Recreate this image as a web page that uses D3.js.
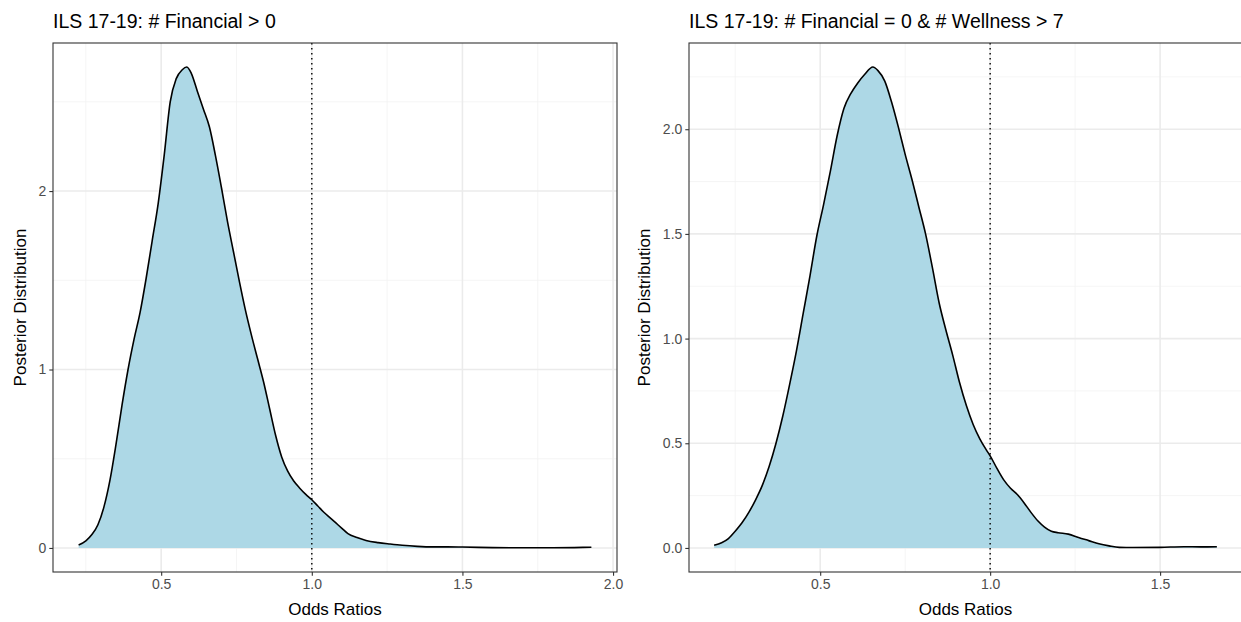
<!DOCTYPE html>
<html>
<head>
<meta charset="utf-8">
<script src="https://cdn.jsdelivr.net/npm/d3@7"></script>
<style>
  body { margin: 0; background: #fff; }
  svg text { font-family: "Liberation Sans", Arial, sans-serif; }
</style>
</head>
<body>
<div id="chart"></div>
<script>
var svgWidth = 1241;
var svgHeight = 622;

// left panel: posterior density of odds ratios
var leftOdds = [0.226, 0.25, 0.27, 0.29, 0.31, 0.33, 0.35, 0.37, 0.39, 0.41, 0.43, 0.45, 0.47, 0.49,
  0.51, 0.53, 0.55, 0.57, 0.585, 0.60, 0.62, 0.64, 0.66, 0.68, 0.70, 0.72, 0.74, 0.76, 0.78,
  0.80, 0.82, 0.84, 0.86, 0.88, 0.90, 0.92, 0.94, 0.96, 0.98, 1.00, 1.02, 1.04, 1.06, 1.08,
  1.10, 1.12, 1.15, 1.18, 1.22, 1.26, 1.30, 1.35, 1.40, 1.45, 1.50, 1.60, 1.70, 1.80, 1.90, 1.928];
var leftDensity = [0.017, 0.04, 0.075, 0.13, 0.23, 0.38, 0.58, 0.80, 1.00, 1.17, 1.32, 1.51, 1.72, 1.93,
  2.20, 2.50, 2.63, 2.68, 2.695, 2.66, 2.56, 2.46, 2.36, 2.20, 2.02, 1.83, 1.66, 1.49, 1.33,
  1.19, 1.06, 0.93, 0.78, 0.63, 0.51, 0.43, 0.375, 0.335, 0.30, 0.27, 0.235, 0.20, 0.17, 0.14,
  0.11, 0.08, 0.058, 0.042, 0.03, 0.022, 0.015, 0.009, 0.006, 0.006, 0.005, 0.002, 0.001, 0.001, 0.003, 0.004];

// right panel
var rightOdds = [0.188, 0.21, 0.23, 0.25, 0.27, 0.29, 0.31, 0.33, 0.35, 0.37, 0.39, 0.41, 0.43, 0.45,
  0.47, 0.49, 0.51, 0.53, 0.55, 0.57, 0.59, 0.61, 0.63, 0.655, 0.67, 0.69, 0.71, 0.73, 0.75,
  0.77, 0.79, 0.81, 0.83, 0.85, 0.87, 0.89, 0.91, 0.93, 0.95, 0.97, 0.99, 1.00, 1.02, 1.04,
  1.06, 1.08, 1.10, 1.12, 1.14, 1.16, 1.18, 1.20, 1.23, 1.26, 1.29, 1.32, 1.35, 1.38, 1.42,
  1.50, 1.57, 1.62, 1.667];
var rightDensity = [0.013, 0.025, 0.045, 0.08, 0.12, 0.17, 0.23, 0.30, 0.39, 0.50, 0.63, 0.78, 0.94, 1.12,
  1.30, 1.49, 1.64, 1.80, 1.97, 2.10, 2.17, 2.22, 2.26, 2.297, 2.28, 2.23, 2.13, 2.01, 1.88,
  1.76, 1.63, 1.50, 1.34, 1.17, 1.04, 0.92, 0.79, 0.68, 0.59, 0.52, 0.465, 0.44, 0.38, 0.325,
  0.285, 0.255, 0.215, 0.17, 0.13, 0.10, 0.08, 0.073, 0.066, 0.05, 0.035, 0.02, 0.01, 0.003, 0.002,
  0.003, 0.006, 0.005, 0.006];

var leftXTicks = [0.5, 1.0, 1.5, 2.0];
var leftYTicks = [0, 1, 2];
var rightXTicks = [0.5, 1.0, 1.5];
var rightYTicks = [0, 0.5, 1.0, 1.5, 2.0];

var leftTitle = "ILS 17-19: # Financial > 0";
var rightTitle = "ILS 17-19: # Financial = 0 & # Wellness > 7";
var xLabel = "Odds Ratios";
var yLabel = "Posterior Distribution";
var refLine = 1.0;

var svg = d3.select("#chart")
  .append("svg")
  .attr("width", svgWidth)
  .attr("height", svgHeight);

// ggplot style expansion: 5% each side
function expand(ext) {
  var pad = (ext[1] - ext[0]) * 0.05;
  return [ext[0] - pad, ext[1] + pad];
}

function minorBreaks(major, domain) {
  var step = major[1] - major[0];
  var out = [];
  var first = major[0] - step / 2;
  for (var v = first; v <= domain[1] + 1e-9; v += step) {
    if (v >= domain[0]) out.push(+v.toFixed(4));
  }
  return out;
}

function drawPanel(opts) {
  var x = d3.scaleLinear()
    .domain(expand(d3.extent(opts.odds)))
    .range([opts.left, opts.right]);
  var y = d3.scaleLinear()
    .domain(expand([0, d3.max(opts.density)]))
    .range([opts.bottom, opts.top]);

  var g = svg.append("g");
  var data = opts.odds.map(function(d, i) { return {x: d, y: opts.density[i]}; });

  var xMinor = minorBreaks(opts.xTicks, x.domain());
  var yMinor = minorBreaks(opts.yTicks, y.domain());

  // grid
  g.selectAll(".xminor").data(xMinor).enter().append("line")
    .attr("x1", d => x(d)).attr("x2", d => x(d))
    .attr("y1", opts.top).attr("y2", opts.bottom)
    .attr("stroke", "#f2f2f2").attr("stroke-width", 0.8);
  g.selectAll(".yminor").data(yMinor).enter().append("line")
    .attr("x1", opts.left).attr("x2", opts.right)
    .attr("y1", d => y(d)).attr("y2", d => y(d))
    .attr("stroke", "#f2f2f2").attr("stroke-width", 0.8);
  g.selectAll(".xmajor").data(opts.xTicks).enter().append("line")
    .attr("x1", d => x(d)).attr("x2", d => x(d))
    .attr("y1", opts.top).attr("y2", opts.bottom)
    .attr("stroke", "#ebebeb").attr("stroke-width", 1.6);
  g.selectAll(".ymajor").data(opts.yTicks).enter().append("line")
    .attr("x1", opts.left).attr("x2", opts.right)
    .attr("y1", d => y(d)).attr("y2", d => y(d))
    .attr("stroke", "#ebebeb").attr("stroke-width", 1.6);

  // density area + outline
  var area = d3.area()
    .x(d => x(d.x))
    .y0(y(0))
    .y1(d => y(d.y))
    .curve(d3.curveMonotoneX);
  var line = d3.line()
    .x(d => x(d.x))
    .y(d => y(d.y))
    .curve(d3.curveMonotoneX);

  g.append("path").datum(data)
    .attr("d", area)
    .attr("fill", "#add8e6");
  g.append("path").datum(data)
    .attr("d", line)
    .attr("fill", "none")
    .attr("stroke", "#000")
    .attr("stroke-width", 1.6);

  // reference line at OR = 1
  g.append("line")
    .attr("x1", x(refLine)).attr("x2", x(refLine))
    .attr("y1", opts.top).attr("y2", opts.bottom)
    .attr("stroke", "#000")
    .attr("stroke-width", 1.4)
    .attr("stroke-dasharray", "1.4,3.6");

  // border
  g.append("rect")
    .attr("x", opts.left).attr("y", opts.top)
    .attr("width", opts.right - opts.left).attr("height", opts.bottom - opts.top)
    .attr("fill", "none")
    .attr("stroke", "#333")
    .attr("stroke-width", 1.1);

  // axes
  var bottomAxis = d3.axisBottom(x).tickValues(opts.xTicks)
    .tickSize(3.7).tickPadding(3).tickFormat(d3.format(".1f"));
  var leftAxis = d3.axisLeft(y).tickValues(opts.yTicks)
    .tickSize(3.7).tickPadding(3).tickFormat(opts.yFormat);

  var xAxis = g.append("g")
    .attr("transform", `translate(0, ${opts.bottom})`)
    .call(bottomAxis);
  var yAxis = g.append("g")
    .attr("transform", `translate(${opts.left}, 0)`)
    .call(leftAxis);

  [xAxis, yAxis].forEach(function(a) {
    a.select(".domain").remove();
    a.selectAll(".tick line").attr("stroke", "#333").attr("stroke-width", 1.1);
    a.selectAll(".tick text").attr("fill", "#4d4d4d").style("font-size", "14px");
  });

  // labels
  g.append("text")
    .attr("x", opts.left)
    .attr("y", 28)
    .style("font-size", "19.5px")
    .attr("fill", "#000")
    .text(opts.title);

  g.append("text")
    .attr("x", (opts.left + opts.right) / 2)
    .attr("y", 615)
    .attr("text-anchor", "middle")
    .style("font-size", "17px")
    .attr("fill", "#000")
    .text(xLabel);

  g.append("text")
    .attr("transform", `translate(${opts.yTitleX}, ${(opts.top + opts.bottom) / 2}) rotate(-90)`)
    .attr("text-anchor", "middle")
    .attr("dy", "0.35em")
    .style("font-size", "17px")
    .attr("fill", "#000")
    .text(yLabel);
}

drawPanel({
  odds: leftOdds, density: leftDensity,
  xTicks: leftXTicks, yTicks: leftYTicks,
  yFormat: d3.format("d"),
  left: 53, right: 617, top: 43, bottom: 572,
  yTitleX: 20,
  title: leftTitle
});

drawPanel({
  odds: rightOdds, density: rightDensity,
  xTicks: rightXTicks, yTicks: rightYTicks,
  yFormat: d3.format(".1f"),
  left: 689, right: 1242, top: 43, bottom: 572,
  yTitleX: 644,
  title: rightTitle
});
</script>
</body>
</html>
